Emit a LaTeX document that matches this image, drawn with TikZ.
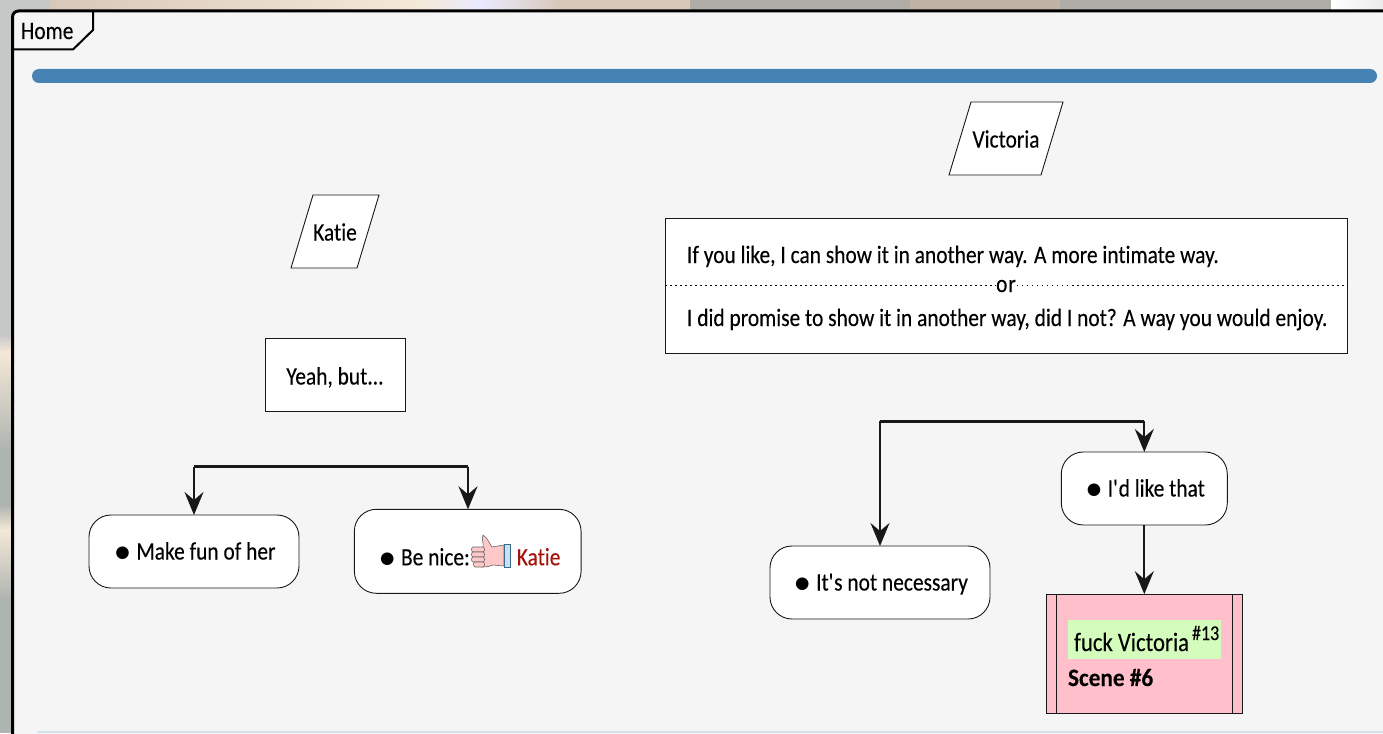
\documentclass[tikz,border=0pt]{standalone}
\usepackage{fontspec}
\setmainfont[FakeStretch=0.857,FakeBold=0.2,Ligatures={NoCommon},BoldFeatures={FakeStretch=0.93}]{Carlito}
\newfontfamily\symf{DejaVu Sans}
\usetikzlibrary{arrows.meta,shapes.geometric}
\definecolor{panel}{HTML}{F5F5F5}
\definecolor{barblue}{HTML}{4682B4}
\definecolor{ink}{HTML}{181818}
\definecolor{scenepink}{HTML}{FFC0CB}
\definecolor{tagreen}{HTML}{D4FCBC}
\definecolor{katie}{HTML}{A5140A}
\definecolor{bgray}{HTML}{B0ACA8}
\definecolor{lgray}{HTML}{C6C8C8}
\definecolor{beige}{HTML}{D8C8BA}
\definecolor{cream}{HTML}{F4E8D8}
\definecolor{brownish}{HTML}{C0B2A4}
\definecolor{sgreen}{HTML}{AEB4B0}
\definecolor{thumbfill}{HTML}{FFC8C8}
\definecolor{cufffill}{HTML}{C4E2F4}
\definecolor{cuffline}{HTML}{3A6A8A}
\definecolor{edgeblue}{HTML}{D4E2EC}
\newcommand{\bul}{\hspace{3pt}{\fontsize{16.5}{16.5}\selectfont\symf\raisebox{2pt}{●}}\hspace{6.6pt}}
\newcommand{\lift}[2]{\raisebox{#1}[0pt][0pt]{#2}}
\tikzset{
  x=1pt,y=-1pt,
  every node/.style={font=\fontsize{25}{29}\selectfont,text=black,inner sep=0pt,outer sep=0pt},
  boxn/.style={draw=ink,line width=0.9pt,fill=white,minimum width=#1},
  roundn/.style={draw=ink,line width=0.9pt,fill=white,rounded corners=22pt},
  para/.style={draw=ink,line width=0.9pt,fill=white},
  forkbar/.style={draw=ink,line width=3pt},
  flow/.style={draw=ink,line width=2pt,-{Stealth[length=23pt,width=19pt,inset=8pt]}},
  thumb/.style={draw=black!60,line width=0.6pt,fill=thumbfill,line join=round},
  dotsep/.style={black,line width=1.4pt,dash pattern=on 1.6pt off 3.4pt},
}
\begin{document}
\begin{tikzpicture}
\useasboundingbox (0,0) rectangle (1383,733);
% blurred backdrop
\fill[lgray] (0,0) rectangle (14,335);
\fill[top color=lgray,bottom color=cream] (0,335) rectangle (14,352);
\fill[top color=cream,bottom color=sgreen] (0,352) rectangle (14,450);
\fill[sgreen] (0,450) rectangle (14,505);
\fill[top color=sgreen,bottom color=cream] (0,505) rectangle (14,530);
\fill[top color=cream,bottom color=sgreen] (0,530) rectangle (14,600);
\fill[sgreen] (0,600) rectangle (14,733);
\fill[lgray] (0,0) rectangle (50,11);
\fill[left color=beige,right color=cream] (50,0) rectangle (420,11);
\fill[left color=cream,right color=white!92!blue] (420,0) rectangle (480,11);
\fill[left color=white!92!blue,right color=beige] (480,0) rectangle (560,11);
\fill[beige] (560,0) rectangle (690,11);
\fill[bgray] (690,0) rectangle (910,11);
\fill[brownish] (910,0) rectangle (1060,11);
\fill[bgray] (1060,0) rectangle (1331,11);
\fill[left color=white,right color=black!8] (1331,0) rectangle (1383,11);
% panel
\fill[panel,rounded corners=6pt] (12.5,745) rectangle (1395,11);
\fill[edgeblue] (37,731) rectangle (1383,733);
\draw[black,line width=3pt,rounded corners=6pt] (12.5,745) -- (12.5,11) -- (1395,11);
\draw[black,line width=2pt] (13,49.5) -- (73,49.5) -- (93,30) -- (93,11);
\node[anchor=base west] (home) at (21,39) {Home};
\fill[barblue,rounded corners=7pt] (32,69) rectangle (1377,83);
% Katie
\path[para] (313,195) -- (379,195) -- (357,268) -- (291,268) -- cycle;
\node (katiepar) at (335,232) {Katie};
\node[boxn=140pt,minimum height=73pt] (yeah) at (335,374.5) {\lift{-10pt}{Yeah, but...}};
\coordinate (lfl) at (194,466.5);
\coordinate (lfr) at (468,466.5);
\node[roundn,minimum width=210pt,minimum height=73pt] (fun) at (194,551.5) {\lift{-8pt}{\bul Make fun of her}};
\node[roundn,minimum width=226.7pt,minimum height=84pt] (nice) at (467.7,551.3) {\lift{-14pt}{\hspace{2pt}\bul Be nice:\hspace{47pt}\textcolor{katie}{Katie}}};
\draw[forkbar] (lfl) -- (lfr);
\draw[flow] (lfl) -- (fun.north);
\draw[flow] (lfr) -- (nice.north -| lfr);
% thumb
\path[thumb] (483,535) .. controls (488,538) and (490,545) .. (492,547) -- (504,545) -- (504,566) -- (493,565) .. controls (488,567) and (485,567) .. (482,567) -- (483,547) .. controls (484,543) and (481,539) .. (483,535) -- cycle;
\path[thumb] (473,547) -- (483,547) .. controls (485,547) and (485,552) .. (483,552) -- (473,552) .. controls (471,552) and (471,547) .. (473,547) -- cycle;
\path[thumb] (473,552) -- (483,552) .. controls (485,552) and (485,557) .. (483,557) -- (473,557) .. controls (471,557) and (471,552) .. (473,552) -- cycle;
\path[thumb] (473,557) -- (483,557) .. controls (485,557) and (485,562) .. (483,562) -- (473,562) .. controls (471,562) and (471,557) .. (473,557) -- cycle;
\path[thumb] (475,562) -- (483,562) .. controls (485,562) and (485,567) .. (483,567) -- (475,567) .. controls (473,567) and (473,562) .. (475,562) -- cycle;
\path[draw=cuffline,line width=0.7pt,fill=cufffill] (504,544.5) -- (510.5,544.5) -- (510.5,567.5) -- (504,567.5) -- cycle;
% Victoria
\path[para] (971,102) -- (1063,102) -- (1041,175) -- (949,175) -- cycle;
\node (vicpar) at (1006,139) {Victoria};
\node[boxn=682pt,minimum height=135pt] (speech) at (1006,285.5) {};
\node[anchor=base west] (say1) at (687,263) {If you like, I can show it in another way. A more intimate way.};
\node[anchor=base west] (say2) at (687,326) {I did promise to show it in another way, did I not? A way you would enjoy.};
\node[anchor=base,inner xsep=1pt] (orlab) at (1006,292) {o\kern1pt r};
\coordinate (orw) at (orlab.west |- speech.center);
\coordinate (ore) at (orlab.east |- speech.center);
\draw[dotsep] (speech.west) -- (orw);
\draw[dotsep] (ore) -- (speech.east);
\coordinate (rfl) at (880,421);
\coordinate (rfr) at (1144.3,421);
\node[roundn,minimum width=220pt,minimum height=73pt] (nonec) at (880,582.5) {\lift{-8pt}{\bul It\textquotesingle s not necessary}};
\node[roundn,minimum width=166pt,minimum height=73pt] (like) at (1144.3,488.5) {\lift{-8pt}{\bul I\textquotesingle d like that}};
\node[draw=ink,line width=0.9pt,fill=scenepink,minimum width=196pt,minimum height=119.7pt] (scene) at (1144.3,654) {};
\draw[ink,line width=0.9pt] ([xshift=10pt]scene.north west) -- ([xshift=10pt]scene.south west);
\draw[ink,line width=0.9pt] ([xshift=-10pt]scene.north east) -- ([xshift=-10pt]scene.south east);
\node[fill=tagreen,minimum width=153pt,minimum height=39pt,anchor=north west] (tag) at (1068,620) {};
\node[anchor=base west,font=\fontsize{26.5}{30}\selectfont] (fv) at (1074,651) {fuck Victoria};
\node[anchor=base west,font=\fontsize{21}{23}\selectfont] (sup) at (1192,640) {\#13};
\node[anchor=base west,font=\fontsize{25}{29}\selectfont\bfseries] (sc) at (1068,686) {Scene \#6};
\draw[forkbar] (rfl) -- (rfr);
\draw[flow] (rfl) -- (nonec.north);
\draw[flow] (rfr) -- (like.north);
\draw[flow] (like.south) -- (like.south |- scene.north);
\end{tikzpicture}
\end{document}
